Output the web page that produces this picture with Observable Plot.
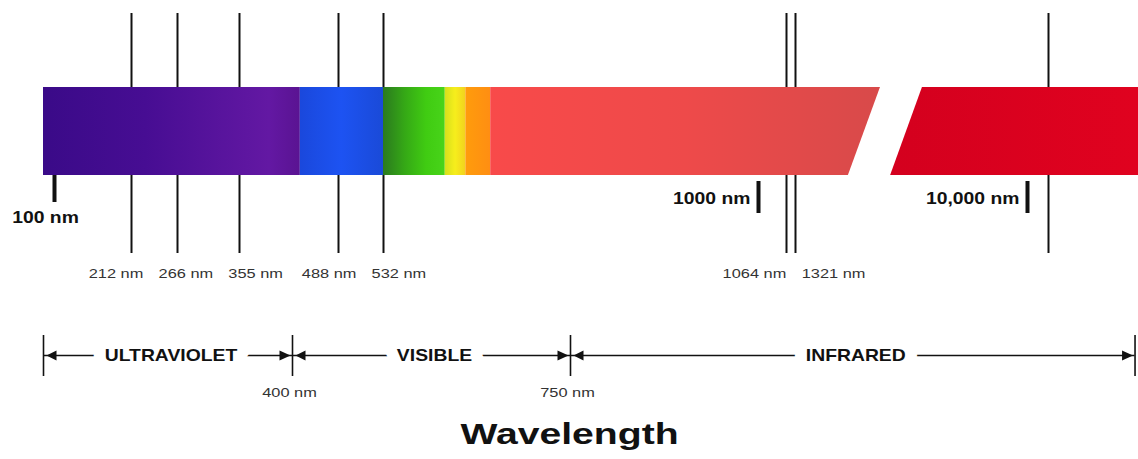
<!DOCTYPE html>
<html>
<head>
<meta charset="utf-8">
<script src="https://cdn.jsdelivr.net/npm/d3@7"></script>
<script src="https://cdn.jsdelivr.net/npm/@observablehq/plot@0.6"></script>
<style>
  body { margin: 0; background: #fff; }
  svg { display: block; }
</style>
</head>
<body>
<div id="chart"></div>
<script>
// ---------------- DATA ----------------
const laserLines  = [212, 266, 355, 488, 532, 1064, 1321, 10600];
const laserLabels = ["212 nm", "266 nm", "355 nm", "488 nm", "532 nm", "1064 nm", "1321 nm", ""];

const scaleMarks      = [100, 1000, 10000];
const scaleMarkLabels = ["100 nm", "1000 nm", "10,000 nm"];

const regionNames  = ["ULTRAVIOLET", "VISIBLE", "INFRARED"];
const regionBounds = [84, 400, 750, 13100];
const boundLabels  = ["", "400 nm", "750 nm", ""];

// spectrum bands (nm); the infrared band has a slanted break between 3300 and 6070 nm
const bandNames       = ["uv", "blue", "green", "yellow", "orange", "nearir", "farir"];
const bandStartTop    = [84, 415, 532, 604, 628, 657, 6070];
const bandStartBottom = [84, 415, 532, 604, 628, 657, 4880];
const bandEndTop      = [415, 532, 604, 628, 657, 4500, 13200];
const bandEndBottom   = [415, 532, 604, 628, 657, 3300, 13200];

const titleText = "Wavelength";

// ---------------- SCALE (non-linear diagram axis, piecewise) ----------------
const xKnotsNm = [84, 100, 212, 266, 355, 400, 488, 532, 750, 1000, 1064, 1321, 10000, 10600, 13200];
const xKnotsPx = [43, 54, 131, 177, 239, 292, 338, 383, 570, 758, 786, 795, 1027, 1048, 1138];

// ---------------- LAYOUT / STYLE ----------------
const W = 1138, H = 459;
const LINE_TOP = 13, LINE_BOTTOM = 253;
const BAR_TOP = 87, BAR_BOTTOM = 175;
const LABEL_BASE = 277;
const BRACKET_Y = 355, BRACKET_TOP = 335, BRACKET_BOTTOM = 376, BOUND_LABEL_BASE = 396;
const TITLE_BASE = 443;
const FONT = "'Liberation Sans', Arial, Helvetica, sans-serif";
const INK = "#111";

const gradients = {
  uv:     [[0, "#3a0a88"], [0.4, "#470d93"], [0.88, "#6318a3"], [1, "#5a1392"]],
  blue:   [[0, "#1a48dc"], [0.5, "#1d53f2"], [1, "#1a4ad8"]],
  green:  [[0, "#2b7a1f"], [0.35, "#35a816"], [0.7, "#40cc12"], [1, "#48d41a"]],
  yellow: [[0, "#d6e01c"], [0.5, "#f6ee1c"], [1, "#f2d21e"]],
  orange: [[0, "#ff9c0c"], [1, "#ff8e12"]],
  nearir: [[0, "#f84a4a"], [0.5, "#ee4a4a"], [1, "#d84a4a"]],
  farir:  [[0, "#d4001e"], [1, "#e0021f"]]
};

const xScale = Plot.scale({x: {type: "linear", domain: xKnotsNm, range: xKnotsPx}});

// spread labels apart (least squares, ordered, min separation)
function spread(items, pad) {
  const clusters = [];
  for (const it of items) {
    clusters.push({items: [it], offs: [0], pos: it.px});
    while (clusters.length > 1) {
      const b = clusters[clusters.length - 1], a = clusters[clusters.length - 2];
      const lastA = a.items[a.items.length - 1];
      const sep = (lastA.w + b.items[0].w) / 2 + pad;
      const aEnd = a.pos + a.offs[a.offs.length - 1];
      if (b.pos - aEnd >= sep) break;
      const base = a.offs[a.offs.length - 1] + sep;
      b.items.forEach((bi, k) => { a.items.push(bi); a.offs.push(base + b.offs[k]); });
      a.pos = d3.mean(a.items, (ai, k) => ai.px - a.offs[k]);
      clusters.pop();
    }
  }
  const out = [];
  for (const c of clusters) c.items.forEach((it, k) => out.push({...it, pos: c.pos + c.offs[k]}));
  return out;
}

const lineLabelItems = laserLines
  .map((nm, i) => ({nm, label: laserLabels[i], px: xScale.apply(nm), w: laserLabels[i].length * 9.3}))
  .filter(d => d.label);
const lineLabels = spread(lineLabelItems, 14).map(d => ({label: d.label, x: xScale.invert(d.pos)}));

const bandRows = bandNames.flatMap((name, i) => [
  {name, y: BAR_TOP, x1: bandStartTop[i], x2: bandEndTop[i]},
  {name, y: BAR_BOTTOM, x1: bandStartBottom[i], x2: bandEndBottom[i]}
]);

const regions = regionNames.map((name, i) => {
  const from = regionBounds[i], to = regionBounds[i + 1];
  return {name, from, to, mid: xScale.invert((xScale.apply(from) + xScale.apply(to)) / 2)};
});
const bounds = regionBounds.map((nm, i) => ({nm, label: boundLabels[i]}));
const marksTbl = scaleMarks.map((nm, i) => ({nm, label: scaleMarkLabels[i]}));

const arrowRight = {draw(ctx) { ctx.moveTo(-2, 0); ctx.lineTo(-13, -5); ctx.lineTo(-13, 5); ctx.closePath(); }};
const arrowLeft  = {draw(ctx) { ctx.moveTo(3, 0); ctx.lineTo(13, -5); ctx.lineTo(13, 5); ctx.closePath(); }};

const chart = Plot.plot({
  width: W,
  height: H,
  margin: 0,
  axis: null,
  x: {type: "linear", domain: xKnotsNm, range: xKnotsPx},
  y: {type: "linear", domain: [0, H], range: [0, H]},
  style: {fontFamily: FONT, background: "#fff", color: INK},
  marks: [
    // laser lines (behind the bar)
    Plot.ruleX(laserLines, {x: d => d, y1: LINE_TOP, y2: LINE_BOTTOM, stroke: INK, strokeWidth: 2}),
    // spectrum bands
    ...bandNames.map(name =>
      Plot.areaX(bandRows.filter(r => r.name === name), {
        y: "y", x1: "x1", x2: "x2", fill: `url(#grad-${name})`, stroke: "none"
      })),
    // thick scale marks
    Plot.ruleX(marksTbl.slice(0, 1), {x: "nm", y1: BAR_BOTTOM, y2: 202, stroke: INK, strokeWidth: 4}),
    Plot.ruleX(marksTbl.slice(1), {x: "nm", y1: 181, y2: 213, stroke: INK, strokeWidth: 4}),
    Plot.text(marksTbl.slice(0, 1), {x: "nm", y: 222, text: "label", dx: -9, lineAnchor: "bottom",
      textAnchor: "middle", fontSize: 16, fontWeight: "bold", fill: INK}),
    Plot.text(marksTbl.slice(1), {x: "nm", y: 203, text: "label", dx: -8, lineAnchor: "bottom",
      textAnchor: "end", fontSize: 16, fontWeight: "bold", fill: INK}),
    // laser line labels
    Plot.text(lineLabels, {x: "x", y: LABEL_BASE, text: "label", dx: 3, lineAnchor: "bottom",
      textAnchor: "middle", fontSize: 13, fill: "#333"}),
    // region brackets
    Plot.ruleY(regions, {y: BRACKET_Y, x1: "from", x2: "to", stroke: INK, strokeWidth: 1.6}),
    Plot.ruleX(bounds, {x: "nm", y1: BRACKET_TOP, y2: BRACKET_BOTTOM, stroke: INK, strokeWidth: 1.6}),
    Plot.dot(regions, {x: "to", y: BRACKET_Y, symbol: arrowRight, r: 5, fill: INK, stroke: "none"}),
    Plot.dot(regions, {x: "from", y: BRACKET_Y, symbol: arrowLeft, r: 5, fill: INK, stroke: "none"}),
    Plot.text(regions, {x: "mid", y: BRACKET_Y, text: "name", dx: 3, fontSize: 16, fontWeight: "bold",
      fill: INK, stroke: "#fff", strokeWidth: 20, paintOrder: "stroke", strokeLinejoin: "round"}),
    Plot.text(bounds.filter(d => d.label), {x: "nm", y: BOUND_LABEL_BASE, text: "label", dx: -3,
      lineAnchor: "bottom", fontSize: 13, fill: "#333"}),
    // title
    Plot.text([titleText], {y: TITLE_BASE, text: d => d, frameAnchor: "middle", lineAnchor: "bottom",
      fontSize: 29, fontWeight: "bold", fill: INK})
  ]
});

// gradient definitions
const ns = "http://www.w3.org/2000/svg";
const defs = document.createElementNS(ns, "defs");
for (const [name, stops] of Object.entries(gradients)) {
  const g = document.createElementNS(ns, "linearGradient");
  g.setAttribute("id", `grad-${name}`);
  g.setAttribute("x1", "0"); g.setAttribute("x2", "1"); g.setAttribute("y1", "0"); g.setAttribute("y2", "0");
  for (const [o, c] of stops) {
    const s = document.createElementNS(ns, "stop");
    s.setAttribute("offset", o); s.setAttribute("stop-color", c);
    g.appendChild(s);
  }
  defs.appendChild(g);
}
chart.insertBefore(defs, chart.firstChild);

// horizontally widen lettering to match the reference's wide type
const stretchBySize = {13: 1.26, 16: 1.21, 29: 1.35};
chart.querySelectorAll("text").forEach(t => {
  let el = t, fs = null;
  while (el && el !== chart) {
    if (el.getAttribute && el.getAttribute("font-size")) { fs = +el.getAttribute("font-size"); break; }
    el = el.parentNode;
  }
  const k = stretchBySize[fs];
  if (!k) return;
  const tr = t.getAttribute("transform") || "";
  t.setAttribute("transform", `${tr} scale(${k},1)`.trim());
});

document.getElementById("chart").appendChild(chart);
</script>
</body>
</html>
